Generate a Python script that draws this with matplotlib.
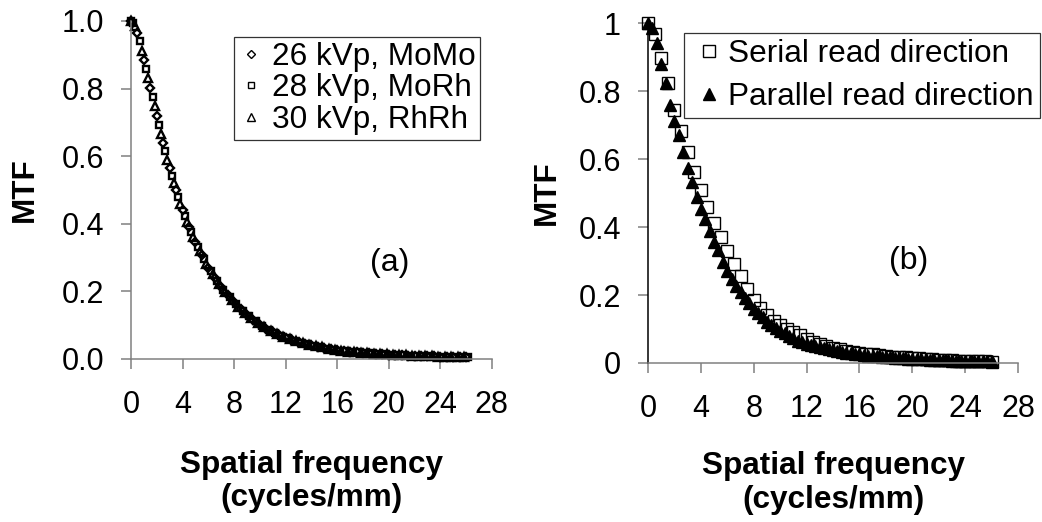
import matplotlib
matplotlib.use('Agg')
import matplotlib.pyplot as plt
from matplotlib.ticker import FormatStrFormatter, FuncFormatter

plt.rcParams['font.family'] = ['Liberation Sans', 'DejaVu Sans']

# ---- panel (a): MTF for three beam qualities ----
x_26 = [0, 0.5, 1.0, 1.5, 2.0, 2.5, 3.0, 3.5, 4.0, 4.5, 5.0, 5.5, 6.0, 6.5, 7.0, 7.5,
        8.0, 8.5, 9.0, 9.5, 10.0, 10.5, 11.0, 11.5, 12.0, 12.5, 13.0, 13.5, 14.0, 14.5,
        15.0, 15.5, 16.0, 16.5, 17.0, 17.5, 18.0, 18.5, 19.0, 19.5, 20.0, 20.5, 21.0,
        21.5, 22.0, 22.5, 23.0, 23.5, 24.0, 24.5, 25.0, 25.5, 26.0]
mtf_26 = [1.000, 0.965, 0.885, 0.802, 0.720, 0.640, 0.565, 0.500, 0.440, 0.390, 0.345,
          0.307, 0.270, 0.240, 0.213, 0.190, 0.168, 0.149, 0.131, 0.116, 0.102, 0.090,
          0.080, 0.071, 0.063, 0.056, 0.050, 0.045, 0.040, 0.036, 0.032, 0.029, 0.026,
          0.024, 0.022, 0.020, 0.019, 0.017, 0.016, 0.014, 0.013, 0.012, 0.011, 0.010,
          0.009, 0.009, 0.008, 0.008, 0.007, 0.007, 0.006, 0.006, 0.005]

x_28 = [0, 0.17, 0.67, 1.17, 1.67, 2.17, 2.67, 3.17, 3.67, 4.17, 4.67, 5.17, 5.67, 6.17,
        6.67, 7.17, 7.67, 8.17, 8.67, 9.17, 9.67, 10.17, 10.67, 11.17, 11.67, 12.17,
        12.67, 13.17, 13.67, 14.17, 14.67, 15.17, 15.67, 16.17, 16.67, 17.17, 17.67,
        18.17, 18.67, 19.17, 19.67, 20.17, 20.67, 21.17, 21.67, 22.17, 22.67, 23.17,
        23.67, 24.17, 24.67, 25.17, 25.67, 26.17]
mtf_28 = [1.000, 0.995, 0.940, 0.857, 0.775, 0.692, 0.615, 0.542, 0.480, 0.422, 0.375,
          0.332, 0.295, 0.260, 0.230, 0.205, 0.182, 0.162, 0.143, 0.126, 0.111, 0.098,
          0.087, 0.077, 0.068, 0.061, 0.054, 0.048, 0.043, 0.039, 0.035, 0.031, 0.028,
          0.025, 0.023, 0.021, 0.020, 0.018, 0.017, 0.015, 0.014, 0.013, 0.012, 0.011,
          0.010, 0.009, 0.008, 0.008, 0.007, 0.007, 0.006, 0.006, 0.005, 0.005]

x_30 = [0, 0.33, 0.83, 1.33, 1.83, 2.33, 2.83, 3.33, 3.83, 4.33, 4.83, 5.33, 5.83, 6.33,
        6.83, 7.33, 7.83, 8.33, 8.83, 9.33, 9.83, 10.33, 10.83, 11.33, 11.83, 12.33,
        12.83, 13.33, 13.83, 14.33, 14.83, 15.33, 15.83, 16.33, 16.83, 17.33, 17.83,
        18.33, 18.83, 19.33, 19.83, 20.33, 20.83, 21.33, 21.83, 22.33, 22.83, 23.33,
        23.83, 24.33, 24.83, 25.33, 25.83]
mtf_30 = [1.000, 0.985, 0.912, 0.830, 0.747, 0.665, 0.590, 0.520, 0.460, 0.405, 0.360,
          0.320, 0.282, 0.250, 0.222, 0.197, 0.175, 0.155, 0.137, 0.121, 0.107, 0.094,
          0.083, 0.074, 0.066, 0.058, 0.052, 0.046, 0.042, 0.037, 0.034, 0.030, 0.027,
          0.025, 0.022, 0.021, 0.019, 0.018, 0.016, 0.015, 0.014, 0.013, 0.012, 0.011,
          0.010, 0.009, 0.008, 0.008, 0.007, 0.007, 0.006, 0.006, 0.005]

# ---- panel (b): serial vs parallel read direction ----
x_serial = [0, 0.5, 1.0, 1.5, 2.0, 2.5, 3.0, 3.5, 4.0, 4.5, 5.0, 5.5, 6.0, 6.5, 7.0, 7.5,
            8.0, 8.5, 9.0, 9.5, 10.0, 10.5, 11.0, 11.5, 12.0, 12.5, 13.0, 13.5, 14.0,
            14.5, 15.0, 15.5, 16.0, 16.5, 17.0, 17.5, 18.0, 18.5, 19.0, 19.5, 20.0, 20.5,
            21.0, 21.5, 22.0, 22.5, 23.0, 23.5, 24.0, 24.5, 25.0, 25.5, 26.0]
mtf_serial = [1.000, 0.968, 0.897, 0.823, 0.744, 0.681, 0.620, 0.561, 0.508, 0.459, 0.413,
              0.370, 0.330, 0.292, 0.255, 0.219, 0.186, 0.162, 0.142, 0.124, 0.111, 0.100,
              0.091, 0.082, 0.072, 0.063, 0.056, 0.050, 0.045, 0.040, 0.036, 0.033, 0.030,
              0.027, 0.025, 0.023, 0.021, 0.019, 0.018, 0.017, 0.015, 0.014, 0.012, 0.011,
              0.010, 0.009, 0.008, 0.007, 0.006, 0.006, 0.005, 0.005, 0.004]

x_parallel = [0, 0.33, 0.67, 1.0, 1.33, 1.67, 2.0, 2.33, 2.67, 3.0, 3.33, 3.67, 4.0, 4.33,
              4.67, 5.0, 5.33, 5.67, 6.0, 6.33, 6.67, 7.0, 7.33, 7.67, 8.0, 8.33, 8.67,
              9.0, 9.33, 9.67, 10.0, 10.33, 10.67, 11.0, 11.33, 11.67, 12.0, 12.33, 12.67,
              13.0, 13.33, 13.67, 14.0, 14.33, 14.67, 15.0, 15.33, 15.67, 16.0, 16.33,
              16.67, 17.0, 17.33, 17.67, 18.0, 18.33, 18.67, 19.0, 19.33, 19.67, 20.0,
              20.33, 20.67, 21.0, 21.33, 21.67, 22.0, 22.33, 22.67, 23.0, 23.33, 23.67,
              24.0, 24.33, 24.67, 25.0, 25.33, 25.67, 26.0]
mtf_parallel = [1.000, 0.985, 0.940, 0.880, 0.825, 0.760, 0.712, 0.672, 0.620, 0.575,
                0.532, 0.488, 0.454, 0.424, 0.388, 0.357, 0.331, 0.296, 0.270, 0.247,
                0.227, 0.208, 0.192, 0.176, 0.160, 0.147, 0.134, 0.121, 0.112, 0.104,
                0.095, 0.087, 0.080, 0.073, 0.066, 0.061, 0.057, 0.053, 0.049, 0.046,
                0.043, 0.040, 0.037, 0.034, 0.032, 0.030, 0.029, 0.027, 0.025, 0.024,
                0.022, 0.021, 0.020, 0.019, 0.018, 0.017, 0.016, 0.015, 0.014, 0.013,
                0.013, 0.012, 0.011, 0.011, 0.010, 0.009, 0.009, 0.008, 0.008, 0.007,
                0.007, 0.007, 0.006, 0.006, 0.006, 0.005, 0.005, 0.005, 0.005]

x_ticks = [0, 4, 8, 12, 16, 20, 24, 28]
y_ticks = [0, 0.2, 0.4, 0.6, 0.8, 1.0]

fig = plt.figure(figsize=(10.42, 5.22), dpi=100)
ax_a = fig.add_axes([0.1257, 0.3123, 0.3464, 0.6475])
ax_b = fig.add_axes([0.6219, 0.3046, 0.3551, 0.6513])

axis_col = '#808080'


def style_axes(ax, ylab_x, xlab_y):
    ax.set_xlim(0, 28)
    ax.set_ylim(0, 1.0)
    ax.set_xticks(x_ticks)
    ax.set_yticks(y_ticks)
    for s in ['top', 'right']:
        ax.spines[s].set_visible(False)
    for s in ['left', 'bottom']:
        ax.spines[s].set_color(axis_col)
        ax.spines[s].set_linewidth(1.1)
    ax.tick_params(axis='x', direction='out', length=7.2, width=1.1, color=axis_col,
                   labelsize=22, pad=15)
    ax.tick_params(axis='y', direction='out', length=7.5, width=1.1, color=axis_col,
                   labelsize=22, pad=12)
    ax.set_xlabel('Spatial frequency\n(cycles/mm)', fontsize=22.7, fontweight='bold',
                  linespacing=1.15)
    ax.xaxis.set_label_coords(0.5, xlab_y)
    ax.set_ylabel('MTF', fontsize=22.7, fontweight='bold')
    ax.yaxis.set_label_coords(ylab_x, 0.5)


mk = dict(linestyle='none', color='black', markerfacecolor='none', markeredgewidth=1.7,
          clip_on=False)
ax_a.plot(x_26, mtf_26, marker='D', markersize=4.2, label='26 kVp, MoMo', **mk)
ax_a.plot(x_28, mtf_28, marker='s', markersize=4.8, label='28 kVp, MoRh', **mk)
ax_a.plot(x_30, mtf_30, marker='^', markersize=5.5, label='30 kVp, RhRh', **mk)
style_axes(ax_a, -0.252, -0.268)
ax_a.yaxis.set_major_formatter(FormatStrFormatter('%.1f'))
ax_a.text(20.1, 0.284, '(a)', fontsize=23, ha='center', va='center')
leg_a = ax_a.legend(loc='upper right', bbox_to_anchor=(480 / 1042, 1 - 37 / 522),
                    bbox_transform=fig.transFigure, fontsize=22.7, frameon=True,
                    fancybox=False, borderpad=0.15, handlelength=0.8, handletextpad=0.25,
                    labelspacing=0.05, borderaxespad=0, markerscale=1.0)
leg_a.get_frame().set_edgecolor('black')
leg_a.get_frame().set_linewidth(0.9)
for h in leg_a.legend_handles:
    h.set_markeredgewidth(1.0)

ax_b.plot(x_serial, mtf_serial, marker='s', markersize=8.3, markeredgewidth=1.0,
          linestyle='none', color='black', markerfacecolor='none', clip_on=False,
          label='Serial read direction')
ax_b.plot(x_parallel, mtf_parallel, marker='^', markersize=8.5, linestyle='none',
          color='black', clip_on=False, label='Parallel read direction')
style_axes(ax_b, -0.232, -0.26)
ax_b.spines['left'].set_color('black')
ax_b.yaxis.set_major_formatter(FuncFormatter(lambda v, p: '%g' % v))
ax_b.text(19.7, 0.30, '(b)', fontsize=23, ha='center', va='center')
leg_b = ax_b.legend(loc='upper right', bbox_to_anchor=(1040 / 1042, 1 - 33 / 522),
                    bbox_transform=fig.transFigure, fontsize=22.7, frameon=True,
                    fancybox=False, borderpad=0.2, handlelength=1.2, handletextpad=0.0,
                    labelspacing=0.4, borderaxespad=0, markerscale=1.0)
leg_b.get_frame().set_edgecolor('black')
leg_b.get_frame().set_linewidth(0.9)

fig.savefig('out.png', dpi=100)
